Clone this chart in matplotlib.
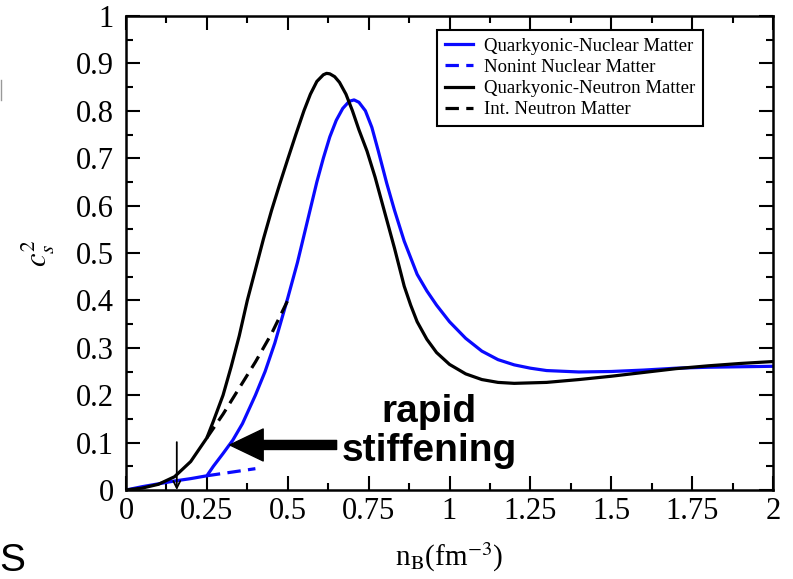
import numpy as np
import matplotlib
matplotlib.use("Agg")
import matplotlib.pyplot as plt
from matplotlib.ticker import MultipleLocator, FuncFormatter
from matplotlib.lines import Line2D

plt.rcParams['font.family'] = ['Liberation Serif', 'DejaVu Serif']
plt.rcParams['mathtext.fontset'] = 'stix'

# ---- data ----
qn_nuc_x = [0.0, 0.05, 0.1, 0.15, 0.2, 0.25, 0.27, 0.3, 0.33, 0.36, 0.4, 0.43, 0.46, 0.5, 0.53,
            0.56, 0.59, 0.61, 0.63, 0.65, 0.67, 0.69, 0.705, 0.72, 0.74, 0.76, 0.78, 0.806, 0.83,
            0.86, 0.9, 0.93, 0.96, 1.0, 1.05, 1.1, 1.15, 1.2, 1.25, 1.3, 1.4, 1.5, 1.6, 1.7,
            1.8, 1.9, 2.0]
qn_nuc_y = [0.0, 0.007, 0.013, 0.019, 0.024, 0.03, 0.05, 0.077, 0.105, 0.14, 0.20, 0.25, 0.31,
            0.405, 0.48, 0.565, 0.65, 0.70, 0.745, 0.78, 0.805, 0.82, 0.823, 0.818, 0.80, 0.765,
            0.715, 0.647, 0.59, 0.525, 0.455, 0.42, 0.39, 0.355, 0.32, 0.293, 0.275, 0.264,
            0.257, 0.252, 0.249, 0.25, 0.253, 0.257, 0.259, 0.26, 0.261]

nonint_nuc_x = [0.25, 0.30, 0.35, 0.40]
nonint_nuc_y = [0.03, 0.035, 0.040, 0.045]

qn_neu_x = [0.0, 0.05, 0.1, 0.15, 0.2, 0.25, 0.27, 0.3, 0.325, 0.35, 0.375, 0.4, 0.425, 0.45,
            0.475, 0.5, 0.525, 0.55, 0.57, 0.59, 0.61, 0.62, 0.63, 0.645, 0.66, 0.68, 0.7, 0.72,
            0.745, 0.77, 0.8, 0.83, 0.86, 0.88, 0.9, 0.93, 0.96, 1.0, 1.05, 1.1, 1.15, 1.2,
            1.3, 1.4, 1.5, 1.6, 1.7, 1.8, 1.9, 2.0]
qn_neu_y = [0.0, 0.004, 0.012, 0.028, 0.06, 0.11, 0.145, 0.20, 0.26, 0.325, 0.40, 0.465, 0.53,
            0.59, 0.645, 0.698, 0.75, 0.80, 0.835, 0.862, 0.876, 0.879, 0.878, 0.872, 0.86,
            0.835, 0.80, 0.76, 0.715, 0.66, 0.585, 0.51, 0.43, 0.39, 0.355, 0.318, 0.29, 0.265,
            0.245, 0.233, 0.227, 0.225, 0.227, 0.233, 0.24, 0.248, 0.256, 0.262, 0.267, 0.271]

int_neu_x = [0.25, 0.30, 0.35, 0.40, 0.45, 0.50]
int_neu_y = [0.11, 0.16, 0.215, 0.27, 0.33, 0.40]

labels = ['Quarkyonic-Nuclear Matter', 'Nonint Nuclear Matter',
          'Quarkyonic-Neutron Matter', 'Int. Neutron Matter']

xticks = [0, 0.25, 0.5, 0.75, 1, 1.25, 1.5, 1.75, 2]
yticks = [0, 0.1, 0.2, 0.3, 0.4, 0.5, 0.6, 0.7, 0.8, 0.9, 1]

# ---- figure ----
fig = plt.figure(figsize=(7.93, 5.79), dpi=100)
ax = fig.add_axes([126/793, 1-490/579, (773-126)/793, (490-16)/579])

lw = 2.3
dash = (4.2, 2.3)
blue = '#0a0aff'
ax.plot(qn_nuc_x, qn_nuc_y, color=blue, lw=lw, label=labels[0], solid_joinstyle='round')
ax.plot(nonint_nuc_x, nonint_nuc_y, color=blue, lw=lw, dashes=dash, label=labels[1])
ax.plot(qn_neu_x, qn_neu_y, color='black', lw=lw, label=labels[2], solid_joinstyle='round')
ax.plot(int_neu_x, int_neu_y, color='black', lw=lw, dashes=dash, label=labels[3])

ax.set_xlim(0, 2)
ax.set_ylim(0, 1)
ax.set_xticks(xticks)
ax.set_yticks(yticks)
ax.xaxis.set_minor_locator(MultipleLocator(0.125))
ax.yaxis.set_minor_locator(MultipleLocator(0.05))
fmt = FuncFormatter(lambda v, p: '%g' % v)
ax.xaxis.set_major_formatter(fmt)
ax.yaxis.set_major_formatter(fmt)
ax.tick_params(which='both', direction='in', top=True, right=True, width=1.5, labelsize=22)
ax.tick_params(which='major', length=10)
ax.tick_params(which='minor', length=5)
ax.tick_params(axis='x', which='major', pad=5)
ax.tick_params(axis='y', which='major', pad=9)
for s in ax.spines.values():
    s.set_linewidth(1.8)

ax.text(-0.136, 0.5, r'$c_s^2$', transform=ax.transAxes, rotation=90,
        ha='center', va='center', fontsize=22)
ax.text(0.5, -0.141, r'n$_\mathrm{B}$(fm$^{-3}$)', transform=ax.transAxes,
        ha='center', va='center', fontsize=21)

leg = ax.legend(loc='upper right', bbox_to_anchor=(703/793, 1-30/579),
                bbox_transform=fig.transFigure, borderaxespad=0, fontsize=13.5,
                frameon=True, fancybox=False, edgecolor='black', framealpha=1,
                handlelength=1.5, handletextpad=0.6, labelspacing=0.22,
                borderpad=0.4)
leg.get_frame().set_linewidth(1.5)

# annotation arrow: rapid stiffening
ax.annotate('', xy=(0.321, 0.095), xytext=(0.651, 0.095),
            arrowprops=dict(width=6.5, headwidth=23, headlength=24, shrink=0,
                            color='black'))
ax.text(0.937, 0.123, 'rapid\nstiffening', ha='center', va='center', fontsize=28,
        fontweight='bold', family=['Liberation Sans', 'DejaVu Sans'], linespacing=1.12)

# small saturation-density arrow
ax.annotate('', xy=(0.157, 0.0), xytext=(0.157, 0.101),
            arrowprops=dict(arrowstyle='->,head_length=0.5,head_width=0.25', lw=1.3,
                            color='black', shrinkA=0, shrinkB=0))

# cut-off slide artifacts
fig.text(12/793, 1-561/579, 'S', ha='center', va='center', fontsize=28,
         family=['Liberation Sans', 'DejaVu Sans'])
fig.add_artist(Line2D([1/793, 1/793], [1-80/579, 1-100/579], color='#999999', lw=1))

fig.savefig('out.png', dpi=100)
